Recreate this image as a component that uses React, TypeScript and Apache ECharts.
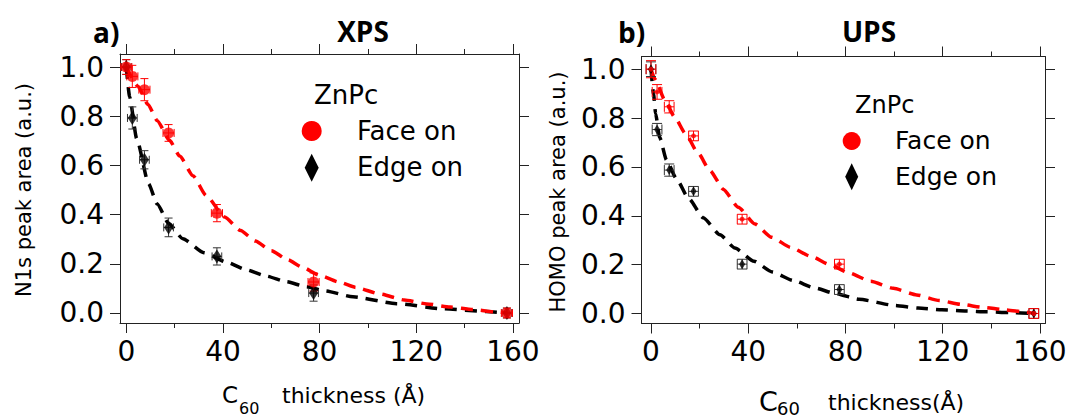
import React, { useEffect, useRef } from "react";
import * as echarts from "echarts";

// ---- data ----
const thickness = [0, 2.5, 7.5, 17.5, 37.5, 77.5, 157.5];

const xpsFace = [1.0, 0.962, 0.908, 0.732, 0.406, 0.126, 0.0];
const xpsFaceErrY = [0.03, 0.045, 0.045, 0.034, 0.035, 0.037, 0.02];
const xpsEdge = [1.0, 0.793, 0.623, 0.348, 0.23, 0.081, 0.0];
const xpsEdgeErrY = [0.03, 0.045, 0.037, 0.038, 0.035, 0.033, 0.02];

const upsFace = [1.0, 0.907, 0.846, 0.727, 0.386, 0.202, 0.0];
const upsFaceErrY = [0.035, 0.03, 0.025, 0.02, 0.02, 0.02, 0.02];
const upsEdge = [1.0, 0.753, 0.587, 0.5, 0.202, 0.098, 0.0];
const upsEdgeErrY = [0.03, 0.025, 0.025, 0.02, 0.02, 0.02, 0.02];

const xpsFaceErrX = 2.3;
const xpsEdgeErrX = 2.0;
const upsErrX = 2.0;

// fitted (dashed) curves
const xpsFaceFitX = [0, 4.8, 9, 12.8, 17.9, 22.1, 27.6, 33.1, 40.7, 47.3, 53.4, 60, 66.9, 72.7, 80, 87.9, 95, 105, 115, 124.4, 134, 143.4, 152.6, 157.5];
const xpsFaceFitY = [1.0, 0.922, 0.848, 0.782, 0.702, 0.638, 0.558, 0.477, 0.39, 0.335, 0.293, 0.253, 0.216, 0.187, 0.153, 0.126, 0.104, 0.077, 0.053, 0.037, 0.024, 0.014, 0.005, 0.0];

const xpsEdgeFitX = [0, 1.4, 4.3, 9.2, 12.8, 17.5, 23.4, 32.1, 41.4, 49.6, 57.9, 66.2, 74.5, 82.1, 93.8, 111.8, 131.1, 149, 157.5];
const xpsEdgeFitY = [1.0, 0.878, 0.709, 0.526, 0.443, 0.365, 0.302, 0.245, 0.207, 0.176, 0.15, 0.127, 0.107, 0.09, 0.066, 0.038, 0.017, 0.006, 0.0];

const upsFaceFitX = [0, 1.65, 5.8, 9.6, 14.3, 19.2, 24.3, 29.8, 35.9, 42.8, 49.6, 57.6, 65.8, 73.6, 81.2, 90.4, 99.7, 109.3, 118.6, 127.8, 136.7, 145.6, 154.5, 157.5];
const upsFaceFitY = [1.0, 0.959, 0.872, 0.806, 0.735, 0.659, 0.585, 0.508, 0.435, 0.366, 0.312, 0.27, 0.234, 0.2, 0.167, 0.132, 0.103, 0.076, 0.053, 0.037, 0.025, 0.015, 0.005, 0.0];

const upsEdgeFitX = [0, 1.1, 1.9, 3.6, 6.4, 10.4, 15.4, 21.5, 28.4, 34.5, 42.4, 49.9, 58.5, 67.5, 75.7, 85.6, 100.4, 109.9, 119.6, 129.8, 138.1, 147.7, 157.5];
const upsEdgeFitY = [1.0, 0.895, 0.818, 0.72, 0.628, 0.553, 0.472, 0.392, 0.322, 0.268, 0.214, 0.17, 0.135, 0.104, 0.082, 0.058, 0.033, 0.022, 0.015, 0.01, 0.007, 0.004, 0.0];

const xMajorTicks = [0, 40, 80, 120, 160];
const xMinorTicks = [20, 60, 100, 140];
const yTicks = [0, 0.2, 0.4, 0.6, 0.8, 1.0];

const FONT = "DejaVu Sans";
const RED = "#ff0000";
const BLACK = "#000000";

function pairs(xs: number[], ys: number[]) {
  return xs.map((x, i) => [x, ys[i]]);
}
function errData(xs: number[], ys: number[], ex: number, eys: number[]) {
  return xs.map((x, i) => [x, ys[i], ex, eys[i]]);
}

function errRender(cap: number, color: string, width: number) {
  return (params: any, api: any) => {
    const x = api.value(0);
    const y = api.value(1);
    const ex = api.value(2);
    const ey = api.value(3);
    const c = api.coord([x, y]);
    const t = api.coord([x, y + ey]);
    const b = api.coord([x, y - ey]);
    const l = api.coord([x - ex, y]);
    const r = api.coord([x + ex, y]);
    const style = { stroke: color, lineWidth: width, fill: "none" };
    const ln = (x1: number, y1: number, x2: number, y2: number) => ({
      type: "line",
      shape: { x1, y1, x2, y2 },
      style,
    });
    return {
      type: "group",
      children: [
        ln(c[0], t[1], c[0], b[1]),
        ln(c[0] - cap, t[1], c[0] + cap, t[1]),
        ln(c[0] - cap, b[1], c[0] + cap, b[1]),
        ln(l[0], c[1], r[0], c[1]),
        ln(l[0], c[1] - cap, l[0], c[1] + cap),
        ln(r[0], c[1] - cap, r[0], c[1] + cap),
      ],
    };
  };
}

const axisColor = "#222";

function xAxes(gridIndex: number, min: number, max: number) {
  const base = {
    type: "value",
    gridIndex,
    min,
    max,
    splitLine: { show: false },
    offset: 0,
  };
  return [
    {
      ...base,
      position: "bottom",
      axisLine: { show: true, onZero: false, lineStyle: { color: axisColor, width: 1 } },
      axisTick: { show: true, inside: false, length: 10, customValues: xMajorTicks, lineStyle: { color: axisColor } },
      axisLabel: {
        show: true,
        customValues: xMajorTicks,
        margin: 14,
        fontSize: 28,
        fontFamily: FONT,
        color: "#000",
        formatter: (v: number) => String(Math.round(v)),
      },
    },
    {
      ...base,
      position: "bottom",
      axisLine: { show: false, onZero: false },
      axisTick: { show: true, inside: false, length: 5, customValues: xMinorTicks, lineStyle: { color: axisColor } },
      axisLabel: { show: false },
    },
    {
      ...base,
      position: "top",
      axisLine: { show: true, onZero: false, lineStyle: { color: axisColor, width: 1 } },
      axisTick: { show: true, inside: false, length: 10, customValues: xMajorTicks, lineStyle: { color: axisColor } },
      axisLabel: { show: false },
    },
    {
      ...base,
      position: "top",
      axisLine: { show: false, onZero: false },
      axisTick: { show: true, inside: false, length: 5, customValues: xMinorTicks, lineStyle: { color: axisColor } },
      axisLabel: { show: false },
    },
  ];
}

function yAxes(gridIndex: number, min: number, max: number) {
  const base = {
    type: "value",
    gridIndex,
    min,
    max,
    splitLine: { show: false },
    offset: 0,
  };
  return [
    {
      ...base,
      position: "left",
      axisLine: { show: true, onZero: false, lineStyle: { color: axisColor, width: 1 } },
      axisTick: { show: true, inside: false, length: 10, customValues: yTicks, lineStyle: { color: axisColor } },
      axisLabel: {
        show: true,
        customValues: yTicks,
        margin: 16,
        fontSize: 28,
        fontFamily: FONT,
        color: "#000",
        formatter: (v: number) => v.toFixed(1),
      },
    },
    {
      ...base,
      position: "right",
      axisLine: { show: true, onZero: false, lineStyle: { color: axisColor, width: 1 } },
      axisTick: { show: true, inside: false, length: 10, customValues: yTicks, lineStyle: { color: axisColor } },
      axisLabel: { show: false },
    },
  ];
}

function panelSeries(
  xAxisIndex: number,
  yAxisIndex: number,
  face: number[],
  faceErrY: number[],
  faceErrX: number,
  edge: number[],
  edgeErrY: number[],
  edgeErrX: number,
  faceFit: number[][],
  edgeFit: number[][],
  ups: boolean
) {
  const dash = { color: RED, width: 3.5, type: [12, 8] as any, cap: "butt" };
  return [
    {
      type: "line",
      xAxisIndex,
      yAxisIndex,
      data: edgeFit,
      showSymbol: false,
      smooth: 0.2,
      smoothMonotone: "x",
      lineStyle: { ...dash, color: BLACK },
      z: 2,
    },
    {
      type: "line",
      xAxisIndex,
      yAxisIndex,
      data: faceFit,
      showSymbol: false,
      smooth: 0.2,
      smoothMonotone: "x",
      lineStyle: { ...dash, color: RED },
      z: 2,
    },
    {
      type: "custom",
      xAxisIndex,
      yAxisIndex,
      data: errData(thickness, edge, edgeErrX, edgeErrY),
      renderItem: errRender(ups ? 5 : 4, "#333", 1),
      z: 3,
    },
    {
      type: "custom",
      xAxisIndex,
      yAxisIndex,
      data: errData(thickness, face, faceErrX, faceErrY),
      renderItem: errRender(ups ? 5 : 4, RED, 1),
      z: 4,
    },
    {
      type: "scatter",
      xAxisIndex,
      yAxisIndex,
      data: pairs(thickness, edge),
      symbol: "diamond",
      symbolSize: ups ? [6, 10] : [9, 14],
      itemStyle: { color: BLACK },
      z: 5,
    },
    {
      type: "scatter",
      xAxisIndex,
      yAxisIndex,
      data: pairs(thickness, face),
      symbol: "circle",
      symbolSize: ups ? 5 : 11,
      itemStyle: { color: RED },
      z: 6,
    },
  ];
}

function txt(text: string, x: number, y: number, size: number, opts: any = {}) {
  return {
    type: "text",
    x,
    y,
    z: 100,
    rotation: opts.rotation || 0,
    style: {
      text,
      fontSize: size,
      fontFamily: opts.family || FONT,
      fontWeight: opts.weight || "normal",
      fill: "#000",
      align: opts.align || "left",
      verticalAlign: "middle",
    },
  };
}

function diamond(cx: number, cy: number, w: number, h: number) {
  return {
    type: "polygon",
    z: 100,
    shape: {
      points: [
        [cx, cy - h / 2],
        [cx + w / 2, cy],
        [cx, cy + h / 2],
        [cx - w / 2, cy],
      ],
    },
    style: { fill: BLACK },
  };
}

export default function App() {
  const ref = useRef<HTMLDivElement>(null);
  useEffect(() => {
    if (!ref.current) return;
    const chart = echarts.init(ref.current, null, { renderer: "svg" });
    const option: any = {
      animation: false,
      backgroundColor: "#ffffff",
      grid: [
        { left: 120, top: 54, width: 399, height: 269, containLabel: false },
        { left: 641.5, top: 56.5, width: 403.5, height: 267, containLabel: false },
      ],
      xAxis: [...xAxes(0, -2.6, 162.5), ...xAxes(1, -3.9, 162.1)],
      yAxis: [...yAxes(0, -0.0407, 1.053), ...yAxes(1, -0.041, 1.052)],
      series: [
        ...panelSeries(
          0, 0,
          xpsFace, xpsFaceErrY, xpsFaceErrX,
          xpsEdge, xpsEdgeErrY, xpsEdgeErrX,
          pairs(xpsFaceFitX, xpsFaceFitY), pairs(xpsEdgeFitX, xpsEdgeFitY),
          false
        ),
        ...panelSeries(
          4, 2,
          upsFace, upsFaceErrY, upsErrX,
          upsEdge, upsEdgeErrY, upsErrX,
          pairs(upsFaceFitX, upsFaceFitY), pairs(upsEdgeFitX, upsEdgeFitY),
          true
        ),
      ],
      graphic: [
        // titles
        txt("a)", 93, 32, 28, { weight: "bold", family: "Open Sans" }),
        txt("XPS", 363, 31, 28, { weight: "bold", family: "Open Sans", align: "center" }),
        txt("b)", 618, 32, 28, { weight: "bold", family: "Open Sans" }),
        txt("UPS", 869, 31, 28, { weight: "bold", family: "Open Sans", align: "center" }),
        // y axis names
        txt("N1s peak area (a.u.)", 23.5, 190, 21, { rotation: Math.PI / 2, align: "center" }),
        txt("HOMO peak area (a.u.)", 558, 192, 21, { rotation: Math.PI / 2, align: "center" }),
        // x axis names
        txt("C", 222, 394.6, 23),
        txt("60", 239, 408, 16),
        txt("thickness (Å)", 282, 395, 22),
        txt("C", 759, 401, 27),
        txt("60", 777, 408, 18),
        txt("thickness(Å)", 828, 402, 22),
        // legend XPS
        txt("ZnPc", 314, 95, 26),
        { type: "circle", z: 100, shape: { cx: 311.7, cy: 131, r: 10 }, style: { fill: RED } },
        txt("Face on", 357, 131, 26),
        diamond(311.7, 167.7, 14, 28),
        txt("Edge on", 357, 167, 26),
        // legend UPS
        txt("ZnPc", 855, 105, 24),
        { type: "circle", z: 100, shape: { cx: 851.7, cy: 141, r: 9 }, style: { fill: RED } },
        txt("Face on", 895, 140, 25),
        diamond(851.7, 176.7, 13, 27),
        txt("Edge on", 895, 176, 25),
      ],
    };
    chart.setOption(option);
    return () => chart.dispose();
  }, []);
  return (
    <div
      ref={ref}
      style={{ position: "fixed", left: 0, top: 0, width: 1070, height: 418, background: "#fff" }}
    />
  );
}
